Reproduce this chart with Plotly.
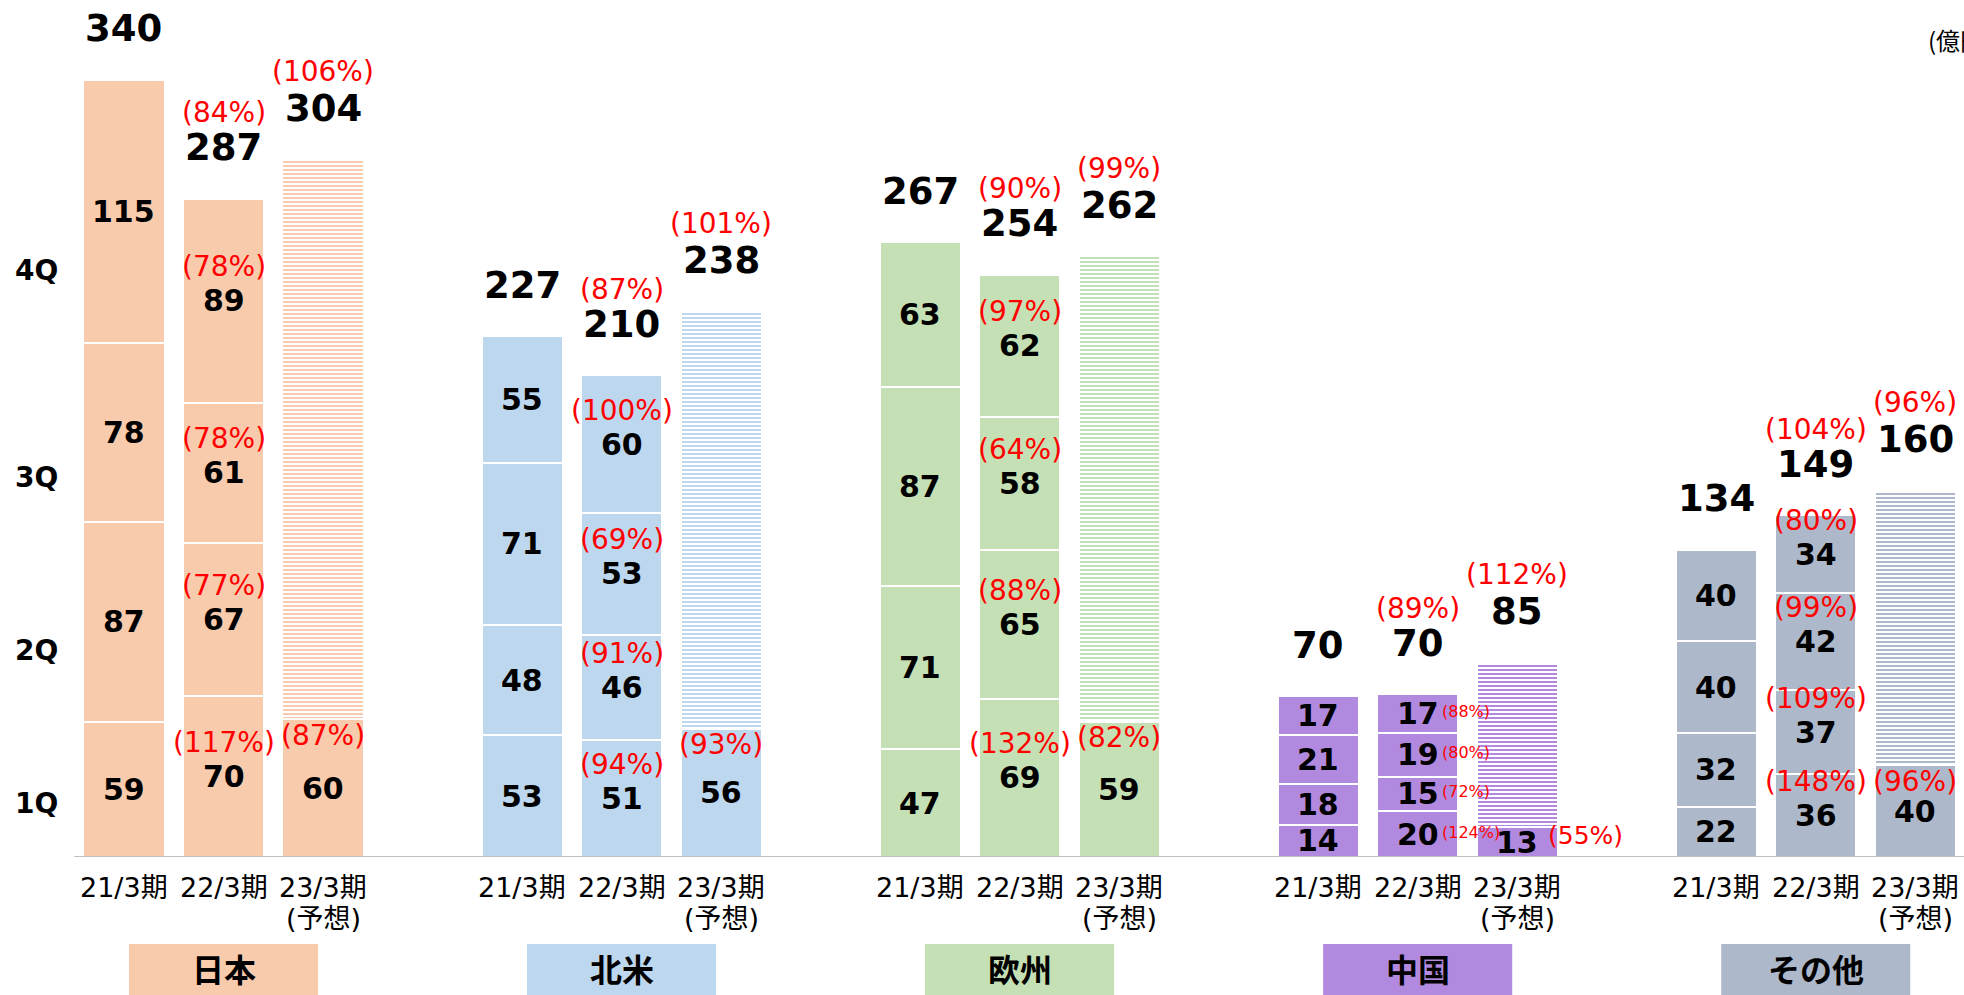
import plotly.graph_objects as go

# ---------------- data ----------------
regions = ["日本", "北米", "欧州", "中国", "その他"]
region_colors = ["#F8CBAD", "#BDD7EE", "#C5E0B4", "#B18AE0", "#ADB9CA"]
year_labels = ["21/3期", "22/3期", "23/3期"]
forecast_note = "(予想)"
quarter_labels = ["1Q", "2Q", "3Q", "4Q"]
unit_label = "(億円)"

fy21_q1 = [59, 53, 47, 14, 22]
fy21_q2 = [87, 48, 71, 18, 32]
fy21_q3 = [78, 71, 87, 21, 40]
fy21_q4 = [115, 55, 63, 17, 40]
fy21_total = [340, 227, 267, 70, 134]

fy22_q1 = [70, 51, 69, 20, 36]
fy22_q2 = [67, 46, 65, 15, 37]
fy22_q3 = [61, 53, 58, 19, 42]
fy22_q4 = [89, 60, 62, 17, 34]
fy22_total = [287, 210, 254, 70, 149]
fy22_q1_pct = [117, 94, 132, 124, 148]
fy22_q2_pct = [77, 91, 88, 72, 109]
fy22_q3_pct = [78, 69, 64, 80, 99]
fy22_q4_pct = [78, 100, 97, 88, 80]
fy22_total_pct = [84, 87, 90, 89, 104]

fy23_q1 = [60, 56, 59, 13, 40]
fy23_q1_pct = [87, 93, 82, 55, 96]
fy23_total = [304, 238, 262, 85, 160]
fy23_total_pct = [106, 101, 99, 112, 96]

# ---------------- layout constants ----------------
W, H = 1964, 995
PLOT_H = 857
Y_MAX = 373.7
X_MIN, X_MAX = -1.246, 18.49
BAR_W = 0.815
NUM_FONT = "DejaVu Sans, Noto Sans CJK JP"
JP_FONT = "DejaVu Sans, Noto Sans CJK JP"
RED = "#FF0000"

n = len(regions)
x21 = [4 * r + 0 for r in range(n)]
x22 = [4 * r + 1 for r in range(n)]
x23 = [4 * r + 2 for r in range(n)]

fig = go.Figure()
seg_line = dict(color="white", width=2)

# stacked quarter segments (actual)
quarters21 = [fy21_q1, fy21_q2, fy21_q3, fy21_q4]
quarters22 = [fy22_q1, fy22_q2, fy22_q3, fy22_q4]
for qi in range(4):
    xs = x21 + x22
    ys = quarters21[qi] + quarters22[qi]
    if qi == 0:
        xs = xs + x23
        ys = ys + fy23_q1
    cols = (region_colors * (3 if qi == 0 else 2))
    fig.add_trace(go.Bar(x=xs, y=ys, width=BAR_W, marker=dict(color=cols, line=seg_line),
                         hoverinfo="skip", showlegend=False))

# forecast remainder (hatched)
remainder = [t - q for t, q in zip(fy23_total, fy23_q1)]
fig.add_trace(go.Bar(
    x=x23, y=remainder, width=BAR_W,
    marker=dict(color=region_colors,
                line=dict(color="white", width=2),
                pattern=dict(shape="-", size=4, solidity=0.5,
                             fgcolor=region_colors, bgcolor="white", fillmode="replace")),
    hoverinfo="skip", showlegend=False))

ann = []

def add_text(x, y, text, size, color="black", bold=False, xshift=0, yshift=0,
             xanchor="center", yanchor="middle", xref="x", yref="y", family=NUM_FONT):
    t = f"<b>{text}</b>" if bold else text
    ann.append(dict(x=x, y=y, xref=xref, yref=yref, text=t, showarrow=False,
                    xanchor=xanchor, yanchor=yanchor, xshift=xshift, yshift=yshift,
                    font=dict(size=size, color=color, family=family)))

VAL = 30
TOT = 37
PCT = 28

for r in range(n):
    # 21/3 segments
    cum = 0
    for q in quarters21:
        v = q[r]
        add_text(x21[r], cum + v / 2, str(v), VAL, bold=True)
        cum += v
    add_text(x21[r], cum, str(fy21_total[r]), TOT, bold=True, yshift=51)

    # 22/3 segments
    cum = 0
    pcts = [fy22_q1_pct, fy22_q2_pct, fy22_q3_pct, fy22_q4_pct]
    for qi, q in enumerate(quarters22):
        v = q[r]
        mid = cum + v / 2
        add_text(x22[r], mid, str(v), VAL, bold=True)
        if regions[r] == "中国":
            add_text(x22[r], mid, f"({pcts[qi][r]}%)", 16, color=RED,
                     xanchor="left", xshift=22, yshift=2)
        else:
            add_text(x22[r], mid, f"({pcts[qi][r]}%)", PCT, color=RED, yshift=34)
        cum += v
    add_text(x22[r], cum, str(fy22_total[r]), TOT, bold=True, yshift=51)
    add_text(x22[r], cum, f"({fy22_total_pct[r]}%)", PCT, color=RED, yshift=86)

    # 23/3 forecast
    v = fy23_q1[r]
    add_text(x23[r], v / 2, str(v), VAL, bold=True)
    if regions[r] == "中国":
        add_text(x23[r], v / 2, f"({fy23_q1_pct[r]}%)", 25, color=RED, xshift=68, yshift=7)
    else:
        add_text(x23[r], v, f"({fy23_q1_pct[r]}%)", PCT, color=RED, yshift=-16)
    add_text(x23[r], fy23_total[r], str(fy23_total[r]), TOT, bold=True, yshift=51)
    add_text(x23[r], fy23_total[r], f"({fy23_total_pct[r]}%)", PCT, color=RED, yshift=88)

    # category labels
    for xs, lab in zip((x21[r], x22[r], x23[r]), year_labels):
        add_text(xs, 0, lab, 27, yref="paper", yshift=-30, family=JP_FONT)
    add_text(x23[r], 0, forecast_note, 27, yref="paper", yshift=-61, family=JP_FONT)

    # region label
    add_text(x22[r], (PLOT_H - 968) / PLOT_H, regions[r], 32, bold=True, yref="paper",
             family="Noto Sans CJK JP")

# quarter labels on the left
q_label_px = [803, 650, 477, 270]
for lab, py in zip(quarter_labels, q_label_px):
    add_text(36 / W, (PLOT_H - py) / PLOT_H, lab, 28, bold=True, xref="paper", yref="paper")

# unit label (clipped at right edge as in original)
add_text(1926 / W, (PLOT_H - 40) / PLOT_H, unit_label, 24, xref="paper", yref="paper",
         xanchor="left", family="Noto Sans CJK JP")

shapes = []
# baseline
shapes.append(dict(type="line", xref="x", yref="y", x0=-0.5, x1=X_MAX, y0=0, y1=0,
                   line=dict(color="#BFBFBF", width=2), layer="above"))
# region label boxes
for r in range(n):
    shapes.append(dict(type="rect", xref="x", yref="paper",
                       x0=x22[r] - 0.95, x1=x22[r] + 0.95,
                       y0=(PLOT_H - 944) / PLOT_H, y1=(PLOT_H - 1000) / PLOT_H,
                       fillcolor=region_colors[r], line=dict(width=0), layer="below"))

fig.update_layout(
    width=W, height=H,
    margin=dict(l=0, r=0, t=0, b=H - PLOT_H),
    paper_bgcolor="white", plot_bgcolor="white",
    barmode="stack", bargap=0,
    xaxis=dict(range=[X_MIN, X_MAX], visible=False, fixedrange=True),
    yaxis=dict(range=[0, Y_MAX], visible=False, fixedrange=True),
    annotations=ann, shapes=shapes,
    showlegend=False,
)

fig.write_html("out.html", config={"displayModeBar": False},
               post_script="document.body.style.margin='0';document.body.style.overflow='hidden';")
